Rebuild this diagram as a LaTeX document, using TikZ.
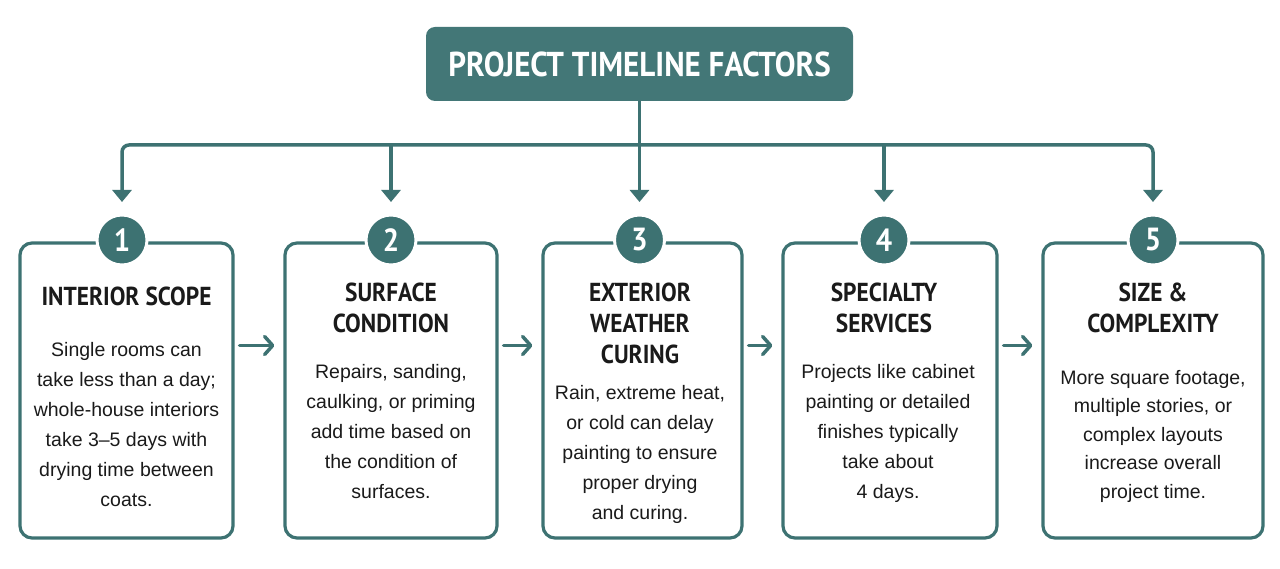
\documentclass[tikz,border=0pt]{standalone}
\usepackage{fontspec}
\setmainfont{Liberation Sans}
\newfontfamily\headfont[FakeStretch=0.9]{PT Sans Bold}
\usetikzlibrary{arrows.meta,calc}
\definecolor{teal1}{HTML}{3D7272}
\definecolor{tealfill}{HTML}{437777}
\definecolor{txt}{HTML}{1A1A1A}
\begin{document}
\begin{tikzpicture}[x=1pt,y=-1pt,
  card/.style={draw=teal1,line width=3.2pt,rounded corners=12pt,fill=white,minimum height=295pt,inner sep=0pt},
  badge/.style={circle,fill=teal1,draw=white,line width=3pt,minimum size=50pt,inner sep=0pt,text=white,font=\headfont\fontsize{32}{32}\selectfont},
  heading/.style={align=center,text=txt,font=\headfont\fontsize{26}{31}\selectfont},
  body/.style={align=center,text=txt,font=\fontsize{19.5}{30}\selectfont},
  conn/.style={draw=teal1,line width=3.5pt},
  downarr/.style={conn,-{Triangle[length=12pt,width=19pt]}},
  rightarr/.style={conn,line cap=round,-{Straight Barb[length=8pt,width=18pt,line cap=round,line join=round]}}]
\useasboundingbox (0,0) rectangle (1280,569);
\fill[white] (0,0) rectangle (1280,569);
% title
\node[fill=tealfill,rounded corners=9pt,minimum width=427pt,minimum height=74pt,text=white,font=\headfont\fontsize{34.5}{34}\selectfont] (title) at (639.5,64) {PROJECT TIMELINE FACTORS};
% cards
\node[card,minimum width=213pt] (b1) at (126.5,390.5) {};
\node[card,minimum width=212pt] (b2) at (391,390.5) {};
\node[card,minimum width=199pt] (b3) at (642.5,390.5) {};
\node[card,minimum width=214pt] (b4) at (890,390.5) {};
\node[card,minimum width=220pt] (b5) at (1153,390.5) {};
% tree connectors
\coordinate (j) at (639.5,145);
\coordinate (t1) at (122,202);
\coordinate (t2) at (391,202);
\coordinate (t3) at (639.5,202);
\coordinate (t4) at (884,202);
\coordinate (t5) at (1153,202);
\draw[downarr] (title.south) -- (t3);
\draw[downarr,rounded corners=7pt] (j) -| (t1);
\draw[downarr,rounded corners=7pt] (j) -| (t5);
\draw[downarr] (t2 |- j) -- (t2);
\draw[downarr] (t4 |- j) -- (t4);
% badges
\node[badge] (n1) at (122,240) {1};
\node[badge] (n2) at (391,240) {2};
\node[badge] (n3) at (639.5,240) {3};
\node[badge] (n4) at (884,240) {4};
\node[badge] (n5) at (1153,240) {5};
% headings
\node[heading] (h1) at (126.5,296) {INTERIOR SCOPE};
\node[heading] (h2) at (391,307.5) {SURFACE\\CONDITION};
\node[heading] (h3) at (640,323.5) {EXTERIOR\\WEATHER\\CURING};
\node[heading] (h4) at (884,307.5) {SPECIALTY\\SERVICES};
\node[heading] (h5) at (1153,308) {SIZE \&\\COMPLEXITY};
% bodies
\node[body] (d1) at (126.5,425) {Single rooms can\\take less than a day;\\whole-house interiors\\take 3--5 days with\\drying time between\\coats.};
\node[body] (d2) at (391,432) {Repairs, sanding,\\caulking, or priming\\add time based on\\the condition of\\surfaces.};
\node[body] (d3) at (640,454) {Rain, extreme heat,\\or cold can delay\\painting to ensure\\proper drying\\and curing.};
\node[body] (d4) at (888,433) {Projects like cabinet\\painting or detailed\\finishes typically\\take about\\4 days.};
\node[body,font=\fontsize{19.5}{28.5}\selectfont] (d5) at (1153,436) {More square footage,\\multiple stories, or\\complex layouts\\increase overall\\project time.};
% right arrows
\draw[rightarr] ($(b1.east)+(5,-45)$) -- ($(b2.west)+(-9,-45)$);
\draw[rightarr] ($(b2.east)+(5,-45)$) -- ($(b3.west)+(-9,-45)$);
\draw[rightarr] ($(b3.east)+(5,-45)$) -- ($(b4.west)+(-9,-45)$);
\draw[rightarr] ($(b4.east)+(5,-45)$) -- ($(b5.west)+(-9,-45)$);
\end{tikzpicture}
\end{document}
